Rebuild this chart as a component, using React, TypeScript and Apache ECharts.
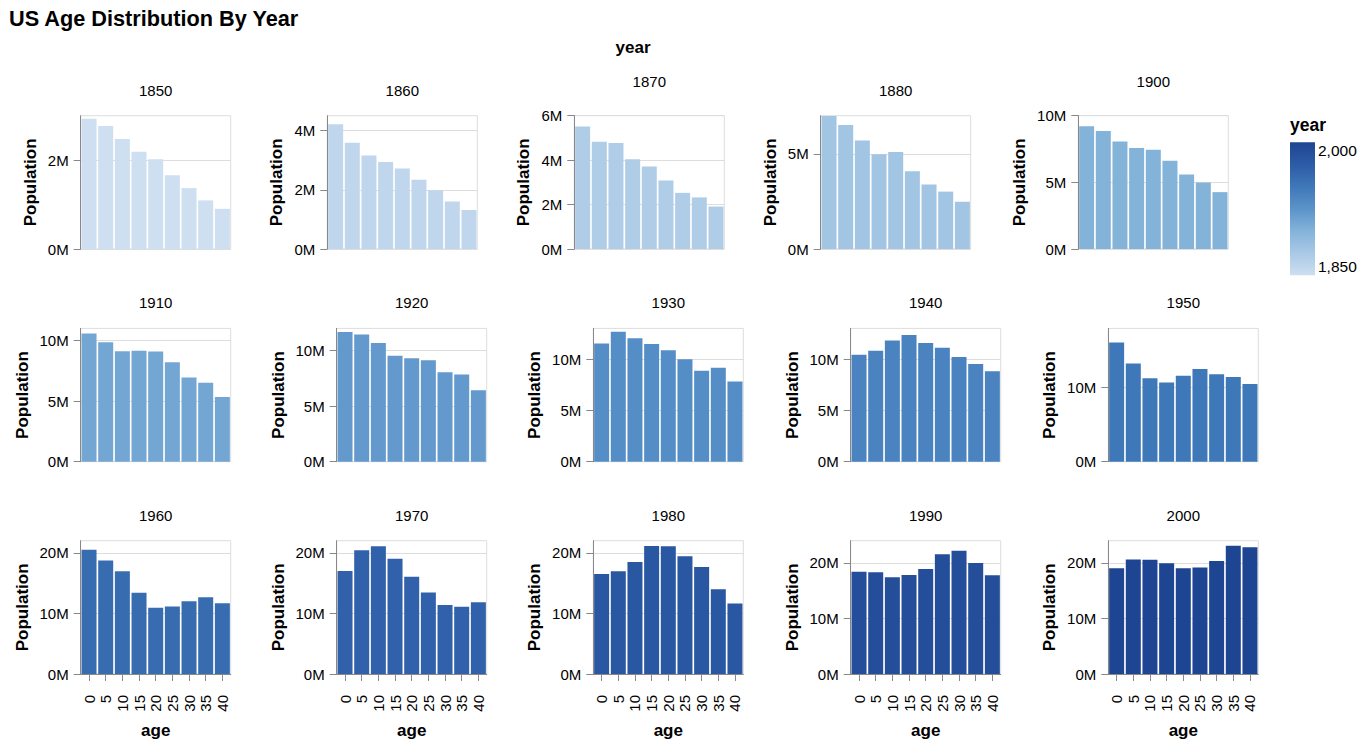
import React, { useEffect, useRef } from 'react';
import * as echarts from 'echarts';

// ---------- data ----------
const years = [1850, 1860, 1870, 1880, 1900, 1910, 1920, 1930, 1940, 1950, 1960, 1970, 1980, 1990, 2000];
const ages = ['0', '5', '10', '15', '20', '25', '30', '35', '40'];

const pop1850 = [2934165, 2770735, 2476213, 2187752, 2021122, 1662029, 1370274, 1093499, 904096];
const pop1860 = [4213008, 3583239, 3152990, 2934093, 2721583, 2333988, 1979229, 1604046, 1316260];
const pop1870 = [5517185, 4822149, 4770011, 4035638, 3714685, 3083344, 2527163, 2322826, 1913262];
const pop1880 = [6984815, 6509753, 5697791, 4981190, 5087289, 4088060, 3387172, 3013058, 2480507];
const pop1900 = [9209220, 8856244, 8059215, 7575975, 7445637, 6625711, 5584593, 4981004, 4265870];
const pop1910 = [10584300, 9857942, 9122634, 9158423, 9085315, 8203908, 6953345, 6516508, 5331496];
const pop1920 = [11671638, 11452428, 10687971, 9536459, 9323401, 9132239, 8062825, 7839541, 6439287];
const pop1930 = [11537782, 12671814, 12051114, 11479028, 10871374, 9980082, 8879621, 9170307, 7829161];
const pop1940 = [10419281, 10827477, 11828948, 12358810, 11578416, 11102410, 10211570, 9516613, 8831453];
const pop1950 = [16103291, 13272530, 11252276, 10698822, 11601146, 12504019, 11822642, 11444395, 10478943];
const pop1960 = [20521974, 18746244, 16961330, 13407095, 10943083, 11142184, 11987957, 12672700, 11693515];
const pop1970 = [17012008, 20414424, 21099941, 19019541, 16070370, 13442342, 11371320, 11104753, 11847735];
const pop1980 = [16521220, 16956611, 18500821, 21109127, 21101393, 19451956, 17661027, 13986741, 11645372];
const pop1990 = [18412283, 18304417, 17429118, 17830330, 18912144, 21575645, 22169734, 19984574, 17759013];
const pop2000 = [19046094, 20621710, 20585757, 19930088, 19055559, 19177718, 20325175, 23110829, 22808830];

const populations = [pop1850, pop1860, pop1870, pop1880, pop1900, pop1910, pop1920, pop1930, pop1940, pop1950, pop1960, pop1970, pop1980, pop1990, pop2000];

// y-axis domain maxima and tick steps (per panel)
const yMax = [3e6, 4.5e6, 6e6, 7e6, 10e6, 11e6, 12e6, 13e6, 13e6, 18e6, 22e6, 22e6, 22e6, 24e6, 24e6];
const yStep = [2e6, 2e6, 2e6, 5e6, 5e6, 5e6, 5e6, 5e6, 5e6, 10e6, 10e6, 10e6, 10e6, 10e6, 10e6];

const legendLabels = ['2,000', '1,850'];
const chartTitle = 'US Age Distribution By Year';

// ---------- layout / style ----------
const FONT = '"Liberation Sans", Arial, Helvetica, sans-serif';
const PW = 150;
const PH = 133.3;
const ROW_TOPS = [115.7, 328.4, 540.7];
const COL_LEFTS = [
  [80.7, 327.3, 574.3, 820.7, 1078.3],
  [80.7, 336.7, 593.3, 850.7, 1108.3],
  [80.7, 336.7, 593.3, 850.7, 1108.3],
];
// colour ramp (light -> dark), evenly spaced
const RAMP = ['#cddff1', '#a9c9e6', '#84b3da', '#5b93c9', '#3f78b9', '#2d5ba6', '#1e4592'];

function hexToRgb(h: string) {
  return [parseInt(h.slice(1, 3), 16), parseInt(h.slice(3, 5), 16), parseInt(h.slice(5, 7), 16)];
}
function ramp(t: number) {
  const n = RAMP.length - 1;
  const x = Math.max(0, Math.min(1, t)) * n;
  const i = Math.min(n - 1, Math.floor(x));
  const f = x - i;
  const a = hexToRgb(RAMP[i]);
  const b = hexToRgb(RAMP[i + 1]);
  const c = a.map((v, k) => Math.round(v + (b[k] - v) * f));
  return `rgb(${c[0]},${c[1]},${c[2]})`;
}

function fmtM(v: number) {
  return `${Math.round(v / 1e6)}M`;
}

function buildOption() {
  const grid: any[] = [];
  const xAxis: any[] = [];
  const yAxis: any[] = [];
  const series: any[] = [];
  const graphic: any[] = [];

  const yMin = years[0];
  const yMaxYear = years[years.length - 1];

  years.forEach((yr, i) => {
    const row = Math.floor(i / 5);
    const col = i % 5;
    const left = COL_LEFTS[row][col];
    const top = ROW_TOPS[row];
    const max = yMax[i];
    const step = yStep[i];
    const ticks: number[] = [];
    for (let v = 0; v <= max + 1; v += step) ticks.push(v);
    const widest = Math.max(...ticks.map((v) => fmtM(v).length));
    const bottomRow = row === 2;

    grid.push({ left, top, width: PW, height: PH, show: true, borderColor: '#ddd', borderWidth: 1, backgroundColor: 'transparent' });

    xAxis.push({
      type: 'category',
      gridIndex: i,
      data: ages,
      show: bottomRow,
      offset: 10,
      boundaryGap: true,
      axisLine: { show: true, lineStyle: { color: '#888', width: 1 } },
      axisTick: { show: true, alignWithLabel: true, length: 7, lineStyle: { color: '#888' } },
      axisLabel: { show: true, rotate: 90, margin: 11, fontSize: 15, color: '#000', fontFamily: FONT, interval: 0 },
      splitLine: { show: false },
      name: bottomRow ? 'age' : '',
      nameLocation: 'middle',
      nameGap: 38,
      nameTextStyle: { fontWeight: 'bold', fontSize: 17, color: '#000', fontFamily: FONT },
    });

    yAxis.push({
      type: 'value',
      gridIndex: i,
      min: 0,
      max,
      interval: step,
      axisLine: { show: true, lineStyle: { color: '#888', width: 1 } },
      axisTick: { show: true, length: 7, lineStyle: { color: '#888' }, customValues: ticks },
      axisLabel: {
        show: true,
        customValues: ticks,
        formatter: (v: number) => (Math.abs(v % step) < 1 ? fmtM(v) : ''),
        margin: 12,
        fontSize: 15,
        color: '#000',
        fontFamily: FONT,
      },
      splitLine: { show: true, lineStyle: { color: '#ddd', width: 1 } },
      name: 'Population',
      nameLocation: 'middle',
      nameGap: widest >= 3 ? 50 : 42,
      nameTextStyle: { fontWeight: 'bold', fontSize: 17, color: '#000', fontFamily: FONT },
    });

    series.push({
      type: 'bar',
      name: String(yr),
      xAxisIndex: i,
      yAxisIndex: i,
      data: populations[i],
      barCategoryGap: '10%',
      itemStyle: { color: ramp((yr - yMin) / (yMaxYear - yMin)) },
      silent: true,
    });

    const hasTopLabel = max % step === 0;
    graphic.push({
      type: 'text',
      x: left + PW / 2,
      y: top - (hasTopLabel ? 34 : 25.5),
      style: { text: String(yr), fontSize: 15, fontFamily: FONT, fill: '#000', textAlign: 'center', textVerticalAlign: 'middle' },
    });
  });

  // chart title
  graphic.push({
    type: 'text',
    x: 9,
    y: 18.5,
    style: { text: chartTitle, fontSize: 21.7, fontWeight: 'bold', fontFamily: FONT, fill: '#000', textAlign: 'left', textVerticalAlign: 'middle' },
  });
  // column header title
  graphic.push({
    type: 'text',
    x: 633,
    y: 47,
    style: { text: 'year', fontSize: 17, fontWeight: 'bold', fontFamily: FONT, fill: '#000', textAlign: 'center', textVerticalAlign: 'middle' },
  });
  // legend
  graphic.push({
    type: 'text',
    x: 1290,
    y: 124.5,
    style: { text: 'year', fontSize: 17.5, fontWeight: 'bold', fontFamily: FONT, fill: '#000', textAlign: 'left', textVerticalAlign: 'middle' },
  });
  const stops = RAMP.map((c, k) => ({ offset: k / (RAMP.length - 1), color: RAMP[RAMP.length - 1 - k] }));
  graphic.push({
    type: 'rect',
    shape: { x: 1290, y: 142.3, width: 25, height: 133 },
    style: { fill: { type: 'linear', x: 0, y: 0, x2: 0, y2: 1, colorStops: stops } },
  });
  graphic.push({
    type: 'text',
    x: 1318,
    y: 150,
    style: { text: legendLabels[0], fontSize: 15.5, fontFamily: FONT, fill: '#000', textAlign: 'left', textVerticalAlign: 'middle' },
  });
  graphic.push({
    type: 'text',
    x: 1318,
    y: 266,
    style: { text: legendLabels[1], fontSize: 15.5, fontFamily: FONT, fill: '#000', textAlign: 'left', textVerticalAlign: 'middle' },
  });

  return {
    animation: false,
    backgroundColor: '#fff',
    textStyle: { fontFamily: FONT },
    grid,
    xAxis,
    yAxis,
    series,
    graphic,
  };
}

export default function App() {
  const ref = useRef<HTMLDivElement>(null);
  useEffect(() => {
    if (!ref.current) return;
    const chart = echarts.init(ref.current, null, { renderer: 'svg' });
    chart.setOption(buildOption() as any);
    return () => chart.dispose();
  }, []);
  return <div ref={ref} style={{ position: 'fixed', left: 0, top: 0, width: 1370, height: 746, background: '#fff' }} />;
}
